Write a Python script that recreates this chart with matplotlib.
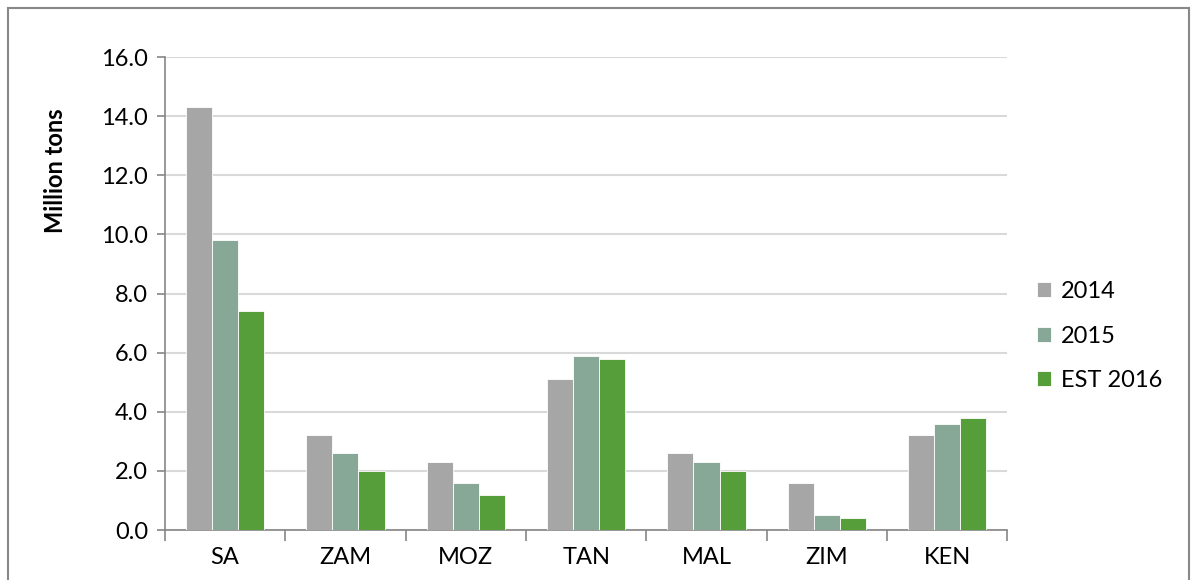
import numpy as np
import matplotlib
matplotlib.use('Agg')
import matplotlib.pyplot as plt
from matplotlib.patches import Rectangle

plt.rcParams['font.family'] = ['Lato', 'DejaVu Sans']

categories = ['SA', 'ZAM', 'MOZ', 'TAN', 'MAL', 'ZIM', 'KEN']
series_names = ['2014', '2015', 'EST 2016']
v2014 = [14.3, 3.2, 2.3, 5.1, 2.6, 1.6, 3.2]
v2015 = [9.8, 2.6, 1.6, 5.9, 2.3, 0.5, 3.6]
v2016 = [7.4, 2.0, 1.2, 5.8, 2.0, 0.4, 3.8]
colors = ['#A6A6A6', '#87A896', '#559E3A']
yticks = [0, 2, 4, 6, 8, 10, 12, 14, 16]

fig = plt.figure(figsize=(11.95, 5.8), dpi=100)
ax = fig.add_axes([0.138, 0.0862, 0.705, 0.8155])

x = np.arange(len(categories))
w = 0.217
for i, (vals, c, name) in enumerate(zip([v2014, v2015, v2016], colors, series_names)):
    ax.bar(x + (i - 1) * w, vals, w, color=c, edgecolor='white', linewidth=0.6,
           label=name, zorder=3)

ax.set_xlim(-0.5, len(categories) - 0.5)
ax.set_ylim(0, 16)
ax.set_yticks(yticks)
ax.set_yticklabels(['%.1f' % t for t in yticks], fontsize=17)
ax.set_xticks(x)
ax.set_xticklabels(categories, fontsize=17)
ax.set_xticks(np.arange(len(categories) + 1) - 0.5, minor=True)
ax.tick_params(axis='x', which='major', length=0, pad=12)
ax.tick_params(axis='x', which='minor', length=8, color='#868686', width=1.2)
ax.tick_params(axis='y', length=6, color='#868686', width=1.2, pad=6)

ax.grid(axis='y', color='#D9D9D9', linewidth=1.5, zorder=0)
ax.spines['top'].set_visible(False)
ax.spines['right'].set_visible(False)
ax.spines['left'].set_color('#868686')
ax.spines['bottom'].set_color('#868686')
ax.spines['left'].set_linewidth(1.2)
ax.spines['bottom'].set_linewidth(1.2)

ax.set_ylabel('Million tons', fontsize=17, fontweight='bold')
ax.yaxis.set_label_coords(-0.116, 0.76)

ax.legend(loc='center left', bbox_to_anchor=(1.01, 0.41), frameon=False,
          fontsize=17, handlelength=0.6, handleheight=0.6, handletextpad=0.4,
          labelspacing=1.0)

fig.patches.append(Rectangle((8 / 1195, -0.1), 1 - 14 / 1195, 1.1 - 8 / 580,
                             transform=fig.transFigure, fill=False,
                             edgecolor='#888888', linewidth=1.5))

fig.savefig('out.png', dpi=100)
